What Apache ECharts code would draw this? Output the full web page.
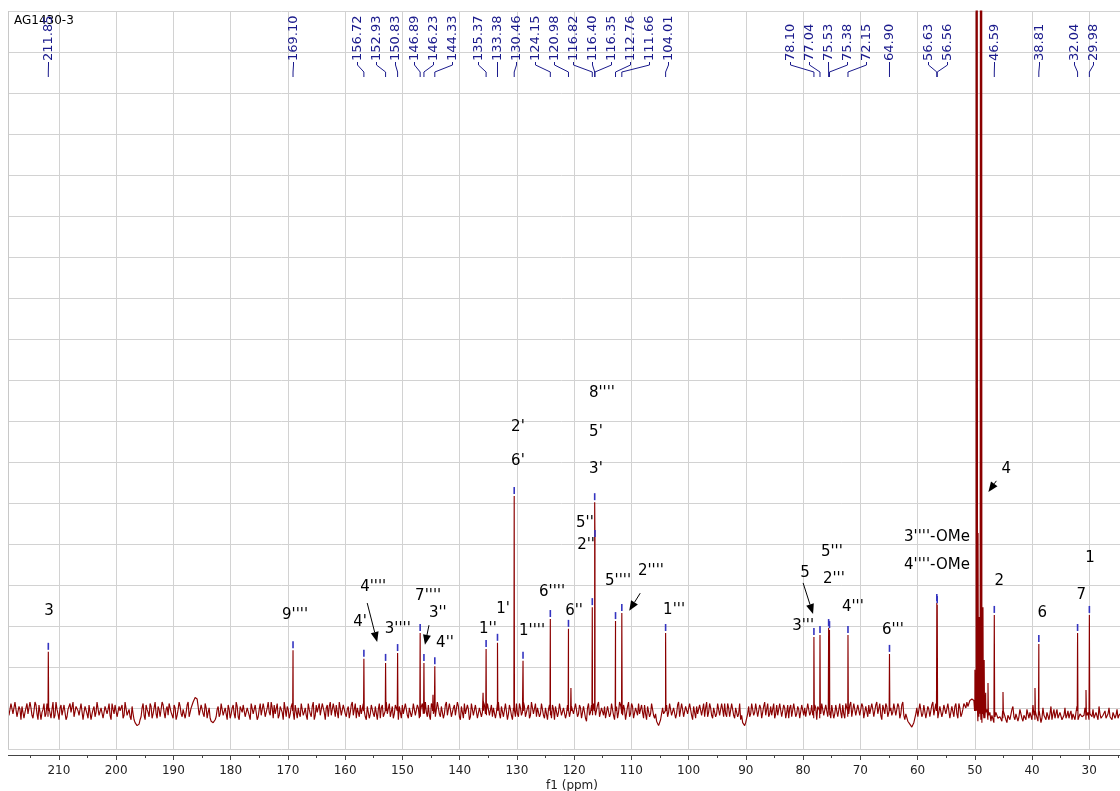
<!DOCTYPE html>
<html>
<head>
<meta charset="utf-8">
<script src="https://cdn.jsdelivr.net/npm/echarts@6/dist/echarts.min.js"></script>
<style>html,body{margin:0;padding:0;background:#fff}#c{width:1120px;height:791px}</style>
</head>
<body>
<div id="c"></div>
<script>
// ---------- data ----------
const spectrumTitle = 'AG1430-3';
const axisName = 'f1 (ppm)';
const specStartPpm = 218.9, specEndPpm = 24.8;
const baselineLevel = 0.93;
const noiseUnit = 0.036;

// picked peaks (ppm) and their heights (grid units)
const peakPpm = [211.85,169.10,156.72,152.93,150.83,146.89,146.23,144.33,135.37,133.38,130.46,128.92,124.15,120.98,116.82,116.40,116.35,112.76,111.66,104.01,78.10,77.04,75.53,75.38,72.15,64.90,56.63,56.56,46.59,38.81,32.04,29.98];
const peakTop = [2.37,2.41,2.20,2.10,2.34,2.83,2.10,2.02,2.44,2.59,6.17,2.15,3.17,2.93,3.46,6.02,5.12,3.12,3.32,2.83,2.73,2.78,2.95,2.90,2.78,2.32,3.56,3.51,3.27,2.56,2.83,3.27];
// peaks that carry a printed ppm label
const labeledPpm = [211.85,169.10,156.72,152.93,150.83,146.89,146.23,144.33,135.37,133.38,130.46,124.15,120.98,116.82,116.40,116.35,112.76,111.66,104.01,78.10,77.04,75.53,75.38,72.15,64.90,56.63,56.56,46.59,38.81,32.04,29.98];

// solvent (CD3OD) multiplet and small unpicked lines
const solventPpm = [49.97,49.76,49.70,49.58,49.43,49.21,49.00,48.92,48.80,48.57,48.36,48.10];
const solventTop = [1.93,25,25,25,5.27,3.22,25,25,25,3.46,2.17,1.37];
const minorPpm = [144.65,135.9,120.55,47.69,45.07,39.48,30.57];
const minorTop = [1.32,1.37,1.49,1.61,1.39,1.49,1.44];

// baseline noise trace (in noise units, left to right), sampled points
const baselineNoise = [
2,-3,4,-1,5,-4,1,3,-5,2,-2,6,-3,0,4,-6,3,-1,5,-2,
-4,3,1,-5,6,-2,2,-3,4,-6,1,5,-2,-4,3,0,-3,6,-1,2,
-5,4,-2,3,-1,5,-4,2,-6,4,1,-3,5,-2,3,-5,0,4,-3,6,
-2,-4,3,-6,-8,-11,-6,2,-3,4,-1,5,-5,2,-2,3,-4,6,-1,1,
-3,5,-2,4,-6,1,3,-4,2,-1,6,-3,4,7,9,3,-2,5,-4,2,
-1,-5,-7,-8,-4,3,-2,5,-3,1,4,-5,2,-2,6,-4,3,-1,5,-3,
2,-6,4,-1,3,-4,5,-2,1,-5,6,-3,2,4,-2,-5,3,-1,6,-4,
1,-2,5,-6,3,2,-4,4,-1,-3,5,-2,3,-6,4,0,-3,5,-1,2,
-4,6,-3,1,4,-5,2,-2,5,-4,3,-1,6,-3,-5,2,4,-3,1,-6,
3,-2,5,-4,2,1,-5,4,-3,6,-1,-4,3,-2,5,-6,2,4,-3,1,
-5,3,-1,6,-3,2,-4,5,-2,-1,4,-6,3,1,-3,5,-4,2,-2,6,
-3,1,-5,4,-2,3,-6,2,5,-3,1,-4,6,-2,3,-5,2,-1,4,-3,
5,-2,-4,3,-1,6,-5,2,-3,4,-2,1,-6,3,5,-4,2,-1,3,-5,
4,-3,6,-1,-4,2,-2,5,-5,3,1,-3,4,-6,2,-1,5,-4,3,-2,
1,-5,4,-3,6,-2,2,-4,3,-7,5,-1,-3,4,-2,6,-5,1,3,-4,
2,-2,5,-6,3,-1,4,-3,1,-5,6,-2,3,-4,2,5,-3,-1,4,-6,
3,-2,1,-5,-7,-10,-6,2,-3,4,-1,5,-4,2,-2,6,-3,1,-5,3,
-1,4,-6,2,3,-3,5,-2,-4,6,-1,2,-5,3,-2,4,-3,1,5,-4,
2,-3,6,-5,1,-2,-6,-8,-10,-7,3,-2,4,-1,5,-3,2,-4,6,-2,
-4,3,1,-5,4,-2,6,-3,2,-1,-5,4,-3,5,-2,1,-6,3,2,-4,
5,-1,-3,4,-6,2,-2,6,-4,3,1,-5,3,-2,5,-3,-1,4,-5,2,
-2,6,-3,1,-4,5,-2,3,-6,2,4,-3,1,-5,6,-1,-3,4,-2,3,
-5,2,-1,5,-4,3,-2,6,-6,-3,-8,-9,-11,-7,2,-3,5,-2,4,-4,
1,-5,6,-2,3,-4,2,-1,5,-3,4,-6,2,3,-2,5,-4,1,4,6,
4,7,8,6,-1,-4,-6,-2,-5,1,-3,-7,-2,-4,0,-6,-3,-5,1,-8,
-2,-5,3,-6,-1,-4,2,-7,-3,1,-5,-2,4,-6,-1,-3,-8,2,-4,-1,
-6,3,-2,-5,1,-4,-1,-7,2,-3,-5,0,-2,-6,3,-4,-1,-5,2,-3,
-6,-1,1,-4,-2,3,-5,-3,0,-6,2,-4,-1,-5,1,-3
];
// intermediate noise points, each lying halfway after the point of the same index above
const baselineNoiseMid = [
-3,5,-2,6,-4,3,-6,4,-1,5,-3,2,-5,6,-2,4,-6,1,-4,5,
2,-5,6,-3,1,-6,4,-2,5,-4,3,-1,6,-5,2,-3,5,-6,3,-2,
4,-6,1,-4,6,-3,2,-5,3,-2,5,-6,1,4,-4,3,-1,-5,6,-3,
1,-6,-2,-8,-10,-9,-4,5,-6,1,-4,3,-2,6,-5,1,-3,4,-5,3,
5,-1,-5,2,-3,6,-2,1,-5,4,-4,2,6,9,8,-3,4,-2,5,-5,
2,-7,-8,-6,1,-4,5,-3,2,-6,1,-2,4,-5,3,-6,1,4,-4,2,
-3,5,-2,4,-6,1,-3,5,-4,2,-1,6,-5,-2,5,-3,2,-6,1,3,
-5,3,-1,4,-5,-2,5,-3,2,-6,1,-4,6,-3,-1,5,-4,2,-6,4,
3,-3,5,-4,-1,6,-3,4,-2,1,-5,4,-3,5,2,-4,-2,5,-4,3,
-5,4,-2,3,-6,5,2,-4,4,-2,5,-3,-5,4,-1,3,-5,-2,5,-3,
2,-4,5,-3,4,-5,3,-2,6,-4,-3,5,-2,-4,6,-2,3,-5,4,-3,
5,-4,2,-3,6,-4,3,-5,-2,4,-6,5,-3,4,-5,2,-4,6,-2,5,
-3,4,2,-5,5,-2,3,-4,5,-6,4,-3,2,-4,-2,5,-3,6,-4,2,
-5,6,-2,5,2,-4,5,-3,2,-6,4,-5,1,3,-4,5,-3,2,-5,4,
-4,3,-2,5,-4,4,-5,3,-5,2,-3,4,5,-3,4,-4,2,-3,-5,3,
-4,5,-3,2,-5,6,-2,4,-6,3,-4,5,-5,2,-3,-2,4,-5,-2,3,
-4,5,-3,-2,-8,-9,-5,-2,4,-4,5,-3,2,-5,4,-4,5,-4,3,-2,
5,-3,3,-5,-2,4,-3,5,2,-4,5,-3,2,-4,5,-3,5,-4,-2,5,
-4,5,-3,2,-4,5,-3,-9,-8,-2,-4,5,-3,5,-4,4,-5,3,-3,5,
-2,-3,5,-2,-3,5,-4,4,-5,4,2,-4,5,-4,3,-5,4,-3,-4,5,
-3,4,-5,2,3,-5,5,-3,4,-4,-3,4,-5,4,-4,5,-5,-2,5,-4,
4,-4,5,-3,4,-3,5,-5,3,-4,-2,5,-4,4,-2,5,-6,3,5,-4,
4,-3,5,-3,5,-5,4,-3,-2,-7,-9,-11,-8,-2,-4,5,-4,4,-5,3,
-4,4,-3,5,-5,3,-4,4,-2,5,-5,3,-4,5,-5,2,-2,5,2,3,
7,8,7,2,-7,-2,-8,-5,-1,-6,-1,-3,-8,-1,-5,-4,-7,0,-6,-3,
-6,1,-4,-2,-7,1,-5,-3,-6,-2,-1,-6,-3,-2,-7,1,-5,-3,-6,-2,
-2,-6,1,-4,-5,-1,-6,-3,-5,0,-2,-6,-4,-1,-6,-2,-4,-3,-6,-1,
-2,-4,-5,-1,-6,-2,-4,-3,-5,-2,-4,-6,-2,-3,-5,-2
];

// assignment annotations
const annotText = ['3',"9''''","4'","4''''","3''''","7''''","3''","4''","1''","1'","1''''","6''''","6''","5''''","2''''","1'''","2'","6'","8''''","5'","3'","5''","2''","5","3'''","5'''","2'''","4'''","6'''","3''''-OMe","4''''-OMe","2","6","7","1","4"];
const annotPpm = [211.73,168.74,157.4,155.1,150.8,145.5,143.8,142.55,135.05,132.4,127.35,123.86,120.0,112.33,106.57,102.53,129.81,129.81,115.14,116.18,116.18,118.1,117.9,79.65,79.99,74.97,74.62,71.3,64.31,56.6,56.6,45.71,38.2,31.39,29.85,44.5];
const annotVal = [3.37,3.27,3.10,3.95,2.93,3.73,3.32,2.59,2.93,3.41,2.88,3.83,3.37,4.10,4.34,3.39,7.85,7.02,8.68,7.73,6.83,5.51,4.98,4.29,3.00,4.80,4.15,3.46,2.90,5.17,4.49,4.10,3.32,3.76,4.66,6.83];
const arrowFromPpm = [156.14,145.35,108.45,79.99,46.23];
const arrowFromVal = [3.56,3.02,3.80,4.05,6.54];
const arrowToPpm = [154.4,146.05,110.37,78.25,47.62];
const arrowToVal = [2.61,2.54,3.37,3.29,6.27];

// axis
const axisMin = 20, axisMax = 220, axisStep = 10;
const gridUnits = 18;

// ---------- build spectrum ----------
const pts = [];
const nN = baselineNoise.length;
const stepPpm = (specStartPpm - specEndPpm) / (nN - 1);
baselineNoise.forEach((v, i) => pts.push([specStartPpm - i * stepPpm, baselineLevel + v * noiseUnit]));
baselineNoiseMid.forEach((v, i) => pts.push([specStartPpm - (i + 0.5) * stepPpm, baselineLevel + v * noiseUnit]));
function addSpike(p, top) {
  pts.push([p + 0.06, baselineLevel]);
  pts.push([p, top]);
  pts.push([p - 0.06, baselineLevel]);
}
peakPpm.forEach((p, i) => addSpike(p, peakTop[i]));
solventPpm.forEach((p, i) => addSpike(p, solventTop[i]));
minorPpm.forEach((p, i) => addSpike(p, minorTop[i]));
pts.sort((a, b) => b[0] - a[0]);

const FONT = '"DejaVu Sans", Verdana, sans-serif';
const chart = echarts.init(document.getElementById('c'), null, {renderer: 'canvas'});

const option = {
  animation: false,
  backgroundColor: '#ffffff',
  title: [
    {text: spectrumTitle, left: 9, top: 10, textStyle: {fontSize: 12, fontWeight: 'normal', color: '#000', fontFamily: FONT}},
    {text: axisName, left: 567, top: 775, textAlign: 'center', textStyle: {fontSize: 12, fontWeight: 'normal', color: '#222', fontFamily: FONT}}
  ],
  grid: {left: 1.66, right: -26.5, top: 11, bottom: 42, containLabel: false, outerBoundsMode: 'none'},
  xAxis: {
    type: 'value', inverse: true, min: axisMin, max: axisMax, interval: axisStep,
    offset: 6,
    axisLine: {show: true, onZero: false, lineStyle: {color: '#444', width: 1}},
    axisTick: {show: true, length: 5, lineStyle: {color: '#444'}},
    minorTick: {show: true, splitNumber: 2, length: 3, lineStyle: {color: '#444'}},
    axisLabel: {
      margin: 10, fontSize: 12, color: '#222', fontFamily: FONT,
      formatter: v => (v === axisMin || v === axisMax) ? '' : String(v)
    },
    splitLine: {show: true, lineStyle: {color: '#d2d2d2', width: 1}}
  },
  yAxis: {
    type: 'value', min: 0, max: gridUnits, interval: 1,
    axisLine: {show: false}, axisTick: {show: false}, axisLabel: {show: false},
    splitLine: {show: true, lineStyle: {color: '#d2d2d2', width: 1}}
  },
  series: [
    {
      type: 'line', data: pts, showSymbol: false, symbol: 'none',
      lineStyle: {color: '#8b0000', width: 1.15}, clip: true, z: 2, silent: true, sampling: null
    },
    {
      type: 'custom', coordinateSystem: 'cartesian2d', z: 3, silent: true, clip: false,
      data: peakPpm.map((p, i) => [p, peakTop[i]]),
      renderItem: (params, api) => {
        const c = api.coord([api.value(0), api.value(1)]);
        return {type: 'line', shape: {x1: c[0], y1: c[1] - 2, x2: c[0], y2: c[1] - 9},
          style: {stroke: '#3434c0', lineWidth: 1.6}};
      }
    },
    {
      type: 'custom', coordinateSystem: 'cartesian2d', z: 4, silent: true, clip: false,
      data: annotPpm.map((p, i) => [p, annotVal[i]]),
      renderItem: (params, api) => {
        const c = api.coord([api.value(0), api.value(1)]);
        return {type: 'text', x: c[0], y: c[1],
          style: {text: annotText[params.dataIndex], fill: '#000', font: '15px ' + FONT, align: 'center', verticalAlign: 'middle'}};
      }
    },
    {
      type: 'custom', coordinateSystem: 'cartesian2d', z: 4, silent: true, clip: false,
      data: arrowFromPpm.map((p, i) => [p, arrowFromVal[i], arrowToPpm[i], arrowToVal[i]]),
      encode: {x: [0, 2], y: [1, 3]},
      renderItem: (params, api) => {
        const a = api.coord([api.value(0), api.value(1)]);
        const b = api.coord([api.value(2), api.value(3)]);
        const dx = b[0] - a[0], dy = b[1] - a[1];
        const L = Math.sqrt(dx * dx + dy * dy) || 1;
        const ux = dx / L, uy = dy / L;
        const hl = 10, hw = 4;
        const bx = b[0] - ux * hl, by = b[1] - uy * hl;
        return {type: 'group', children: [
          {type: 'line', shape: {x1: a[0], y1: a[1], x2: bx, y2: by}, style: {stroke: '#000', lineWidth: 1}},
          {type: 'polygon', shape: {points: [[b[0], b[1]], [bx - uy * hw, by + ux * hw], [bx + uy * hw, by - ux * hw]]}, style: {fill: '#000'}}
        ]};
      }
    }
  ]
};
chart.setOption(option);

// ---------- ppm label layout on top ----------
function spreadLabels(xs, gap) {
  let cl = xs.map(x => ({n: 1, sum: x}));
  let merged = true;
  while (merged) {
    merged = false;
    for (let k = 0; k < cl.length - 1; k++) {
      const a = cl[k], b = cl[k + 1];
      const aEnd = a.sum / a.n + (a.n - 1) * gap / 2;
      const bStart = b.sum / b.n - (b.n - 1) * gap / 2;
      if (bStart - aEnd < gap) {
        cl.splice(k, 2, {n: a.n + b.n, sum: a.sum + b.sum});
        merged = true;
        break;
      }
    }
  }
  const out = [];
  cl.forEach(c => {
    const c0 = c.sum / c.n - (c.n - 1) * gap / 2;
    for (let j = 0; j < c.n; j++) out.push(c0 + j * gap);
  });
  return out;
}
const toPx = p => chart.convertToPixel({xAxisIndex: 0}, p);
const peakPx = labeledPpm.map(toPx);
const labPx = spreadLabels(peakPx, 19);
const NAVY = '#1a1a8c';
const graphics = [];
const frameX = Math.round(toPx(specStartPpm)) + 0.5;
const topY = chart.convertToPixel({yAxisIndex: 0}, gridUnits);
const botY = chart.convertToPixel({yAxisIndex: 0}, 0);
graphics.push({type: 'rect', z: 50, silent: true, shape: {x: 0, y: 0, width: frameX - 0.5, height: 791}, style: {fill: '#ffffff'}});
graphics.push({type: 'line', z: 51, silent: true, shape: {x1: frameX, y1: topY, x2: frameX, y2: botY}, style: {stroke: '#c8c8c8', lineWidth: 1}});
labeledPpm.forEach((p, i) => {
  const lx = Math.round(labPx[i]) + 0.5;
  const px = peakPx[i];
  graphics.push({type: 'text', z: 60, silent: true, x: lx + 0.5, y: 61, rotation: Math.PI / 2,
    style: {text: p.toFixed(2), fill: NAVY, font: '13px ' + FONT, align: 'left', verticalAlign: 'middle'}});
  graphics.push({type: 'polyline', z: 60, silent: true,
    shape: {points: [[lx, 62], [lx, 65], [px, 72], [px, 77]]},
    style: {stroke: NAVY, lineWidth: 1, fill: null}});
});
chart.setOption({graphic: graphics});
</script>
</body>
</html>
